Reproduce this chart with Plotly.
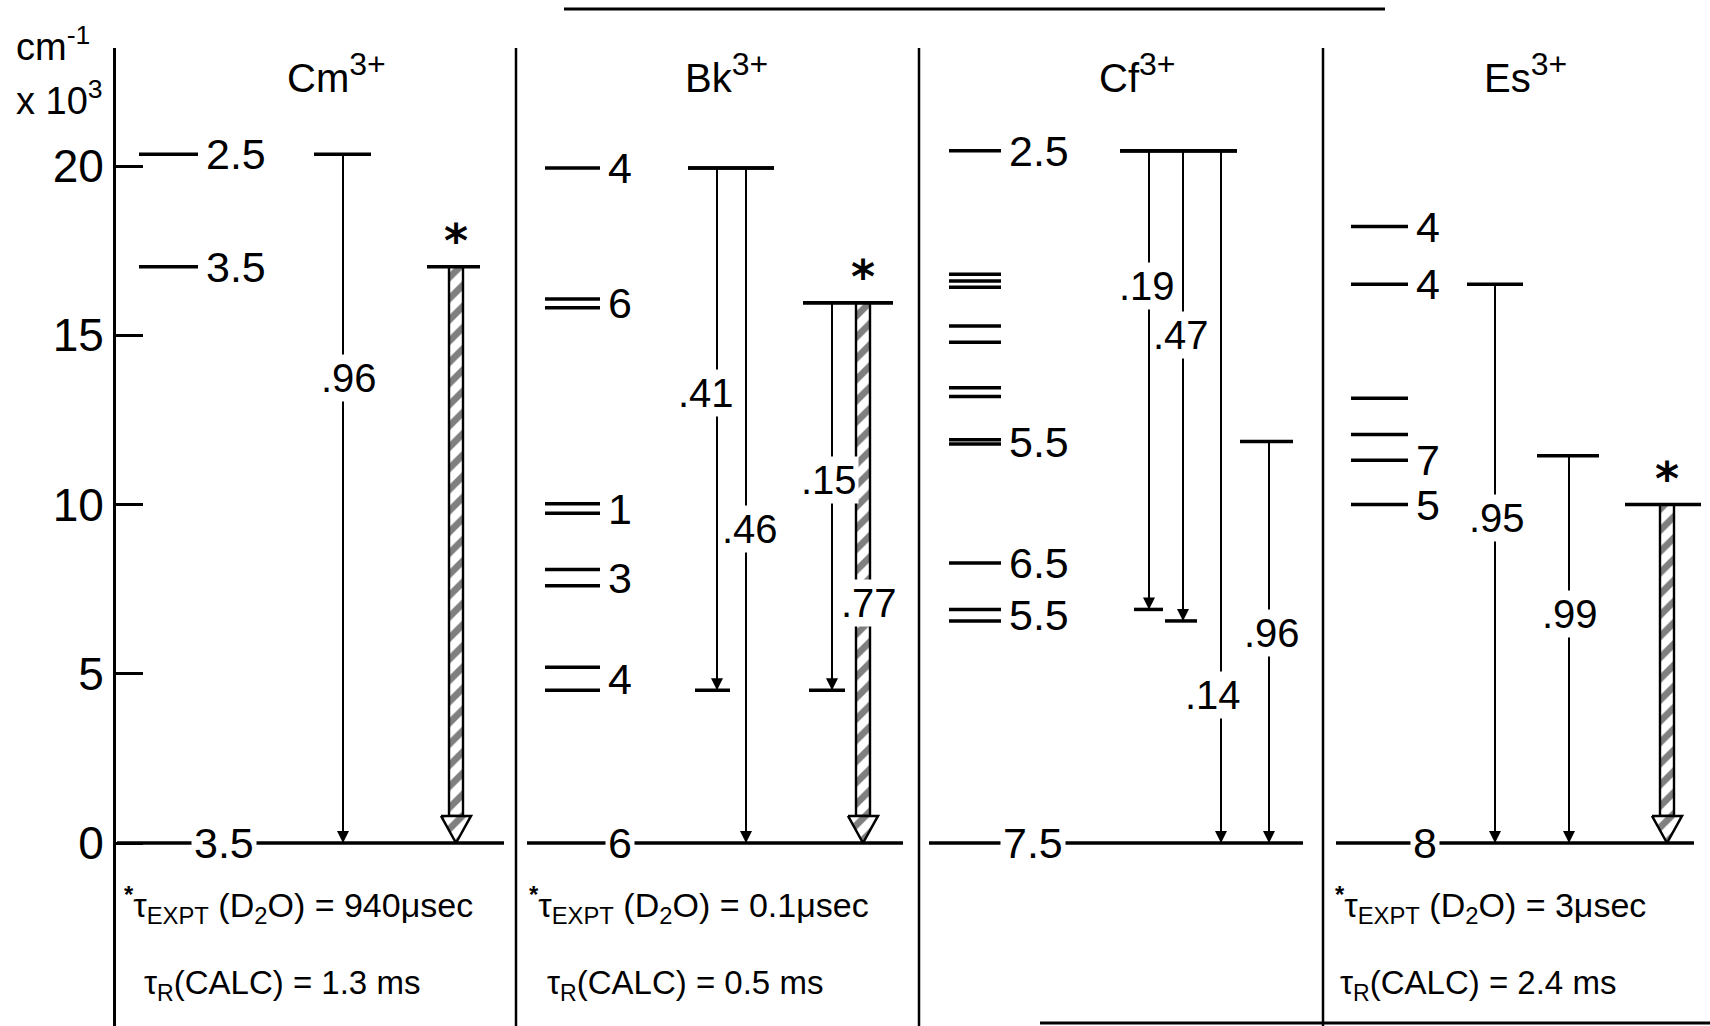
import plotly.graph_objects as go

# ---------------- data: energies in 10^3 cm^-1 ----------------
Y_TICKS = [0, 5, 10, 15, 20]
Y_TICK_TEXT = ["0", "5", "10", "15", "20"]

# Cm3+
CM_LEVELS = [[20.35], [17.02]]
CM_J = ["2.5", "3.5"]
CM_GROUND_J = "3.5"
CM_FROM = [20.35, 17.02]
CM_TO = [0.0, 0.0]
CM_BRANCH = [0.96, None]
CM_EMITTING = [False, True]
CM_TAU_EXPT = "940μsec"
CM_TAU_CALC = "1.3 ms"

# Bk3+
BK_LEVELS = [[19.94], [16.07, 15.81], [10.02, 9.74], [8.08, 7.60], [5.19, 4.51]]
BK_J = ["4", "6", "1", "3", "4"]
BK_GROUND_J = "6"
BK_FROM = [19.94, 19.94, 15.96, 15.96]
BK_TO = [4.51, 0.0, 4.51, 0.0]
BK_BRANCH = [0.41, 0.46, 0.15, 0.77]
BK_EMITTING = [False, False, False, True]
BK_TAU_EXPT = "0.1μsec"
BK_TAU_CALC = "0.5 ms"

# Cf3+
CF_LEVELS = [[20.45], [16.80, 16.60, 16.42], [15.27, 14.79], [13.45, 13.19],
             [11.91, 11.79], [8.27], [6.90, 6.56]]
CF_J = ["2.5", "", "", "", "5.5", "6.5", "5.5"]
CF_GROUND_J = "7.5"
CF_FROM = [20.45, 20.45, 20.45, 11.86]
CF_TO = [6.90, 6.56, 0.0, 0.0]
CF_BRANCH = [0.19, 0.47, 0.14, 0.96]
CF_EMITTING = [False, False, False, False]

# Es3+
ES_LEVELS = [[18.21], [16.51], [13.14], [12.07], [11.31], [10.00]]
ES_J = ["4", "4", "", "", "7", "5"]
ES_GROUND_J = "8"
ES_FROM = [16.51, 11.44, 10.00]
ES_TO = [0.0, 0.0, 0.0]
ES_BRANCH = [0.95, 0.99, None]
ES_EMITTING = [False, False, True]
ES_TAU_EXPT = "3μsec"
ES_TAU_CALC = "2.4 ms"

# ---------------- page geometry ----------------
W, H = 1710, 1026
FONT = "Liberation Sans, Arial, sans-serif"
PX_PER_UNIT = 33.85          # pixels per 10^3 cm^-1
GROUND_PX = 843              # pixel row of the zero level
AXIS_TOP_PX = 48
E_BOT = (GROUND_PX - H) / PX_PER_UNIT
E_TOP = (GROUND_PX - AXIS_TOP_PX) / PX_PER_UNIT
AXIS_X = 114
SEPARATORS = [516, 919, 1323]


def py(p):
    return 1 - p / H


def ratio_text(v):
    return ("%.2f" % v).lstrip("0")


PANELS = [
    dict(title="Cm", title_x=285, levels=CM_LEVELS, j=CM_J, ground_j=CM_GROUND_J,
         e_from=CM_FROM, e_to=CM_TO, branch=CM_BRANCH, emit=CM_EMITTING,
         tau=(CM_TAU_EXPT, CM_TAU_CALC), note_x=(122, 142),
         level_x=(139, 198), ground_x=(117, 504), ground_label_x=224,
         trans_x=[343, 456], top_bar=[(314, 371), (427, 480)],
         bottom_bar=[None, None], label_pos=[(349, 13.74), None]),
    dict(title="Bk", title_x=683, levels=BK_LEVELS, j=BK_J, ground_j=BK_GROUND_J,
         e_from=BK_FROM, e_to=BK_TO, branch=BK_BRANCH, emit=BK_EMITTING,
         tau=(BK_TAU_EXPT, BK_TAU_CALC), note_x=(527, 545),
         level_x=(545, 600), ground_x=(527, 903), ground_label_x=620,
         trans_x=[717, 746, 832, 863],
         top_bar=[(688, 774), (688, 774), (803, 893), (803, 893)],
         bottom_bar=[(695, 730), None, (809, 845), None],
         label_pos=[(706, 13.3), (750, 9.28), (829, 10.72), (869, 7.09)]),
    dict(title="Cf", title_x=1097, levels=CF_LEVELS, j=CF_J, ground_j=CF_GROUND_J,
         e_from=CF_FROM, e_to=CF_TO, branch=CF_BRANCH, emit=CF_EMITTING,
         tau=None, note_x=None,
         level_x=(949, 1001), ground_x=(929, 1303), ground_label_x=1033,
         trans_x=[1149, 1183, 1221, 1269],
         top_bar=[(1120, 1237)] * 3 + [(1240, 1293)],
         bottom_bar=[(1134, 1163), (1165, 1197), None, None],
         label_pos=[(1147, 16.46), (1181, 15.0), (1213, 4.37), (1272, 6.2)]),
    dict(title="Es", title_x=1482, levels=ES_LEVELS, j=ES_J, ground_j=ES_GROUND_J,
         e_from=ES_FROM, e_to=ES_TO, branch=ES_BRANCH, emit=ES_EMITTING,
         tau=(ES_TAU_EXPT, ES_TAU_CALC), note_x=(1333, 1338),
         level_x=(1351, 1408), ground_x=(1336, 1694), ground_label_x=1425,
         trans_x=[1495, 1569, 1667],
         top_bar=[(1467, 1523), (1537, 1599), (1625, 1701)],
         bottom_bar=[None, None, None],
         label_pos=[(1497, 9.6), (1570, 6.76), None]),
]

fig = go.Figure()
annotations = []
shapes = []

thick_x, thick_y = [], []     # energy-level bars
thin_x, thin_y = [], []       # radiative transitions
head_x, head_y = [], []       # filled arrow heads

LEVEL_FONT = dict(family=FONT, size=43, color="black")
HATCH = dict(shape="/", fgcolor="black", bgcolor="white", size=15, solidity=0.45)

for p in PANELS:
    lx0, lx1 = p["level_x"]
    # level ladder on the left of each panel
    for grp, lab in zip(p["levels"], p["j"]):
        for e in grp:
            thick_x += [lx0, lx1, None]
            thick_y += [e, e, None]
        if lab:
            annotations.append(dict(x=lx1 + 6, y=sum(grp) / len(grp), text=lab,
                                    xref="x", yref="y", xanchor="left", yanchor="middle",
                                    showarrow=False, font=LEVEL_FONT))
    # ground level
    gx0, gx1 = p["ground_x"]
    thick_x += [gx0, gx1, None]
    thick_y += [0, 0, None]
    annotations.append(dict(x=p["ground_label_x"], y=0, text=p["ground_j"], xref="x", yref="y",
                            xanchor="center", yanchor="middle", showarrow=False,
                            bgcolor="white", borderpad=2, font=LEVEL_FONT))
    # transitions
    for i, x in enumerate(p["trans_x"]):
        e0, e1 = p["e_from"][i], p["e_to"][i]
        bx0, bx1 = p["top_bar"][i]
        thick_x += [bx0, bx1, None]
        thick_y += [e0, e0, None]
        if p["bottom_bar"][i] is not None:
            cx0, cx1 = p["bottom_bar"][i]
            thick_x += [cx0, cx1, None]
            thick_y += [e1, e1, None]
        if p["emit"][i]:
            head_h = 0.8
            fig.add_trace(go.Bar(
                x=[x], y=[e0 - e1 - head_h], base=[e1 + head_h], width=[14],
                marker=dict(color="white", line=dict(color="black", width=2.4), pattern=HATCH),
                hoverinfo="skip", showlegend=False))
            fig.add_trace(go.Scatter(
                x=[x - 15, x + 15, x, x - 15], y=[e1 + head_h, e1 + head_h, e1, e1 + head_h],
                mode="lines", fill="toself", fillcolor="white", fillpattern=HATCH,
                line=dict(color="black", width=2.5), hoverinfo="skip", showlegend=False))
            annotations.append(dict(x=x, y=e0 + 0.75, text="<b>*</b>", xref="x", yref="y",
                                    xanchor="center", yanchor="middle", showarrow=False,
                                    font=dict(family="DejaVu Sans", size=46, color="black")))
        else:
            thin_x += [x, x, None]
            thin_y += [e0, e1, None]
            head_x.append(x)
            head_y.append(e1)
        if p["branch"][i] is not None and p["label_pos"][i] is not None:
            lxp, lyp = p["label_pos"][i]
            annotations.append(dict(x=lxp, y=lyp, text=ratio_text(p["branch"][i]),
                                    xref="x", yref="y", xanchor="center", yanchor="middle",
                                    showarrow=False, bgcolor="white", borderpad=1,
                                    font=dict(family=FONT, size=40, color="black")))
    # ion title
    annotations.append(dict(x=p["title_x"] / W, y=py(102),
                            text=p["title"] + "<sup><span style='font-size:32px'>3+</span></sup>",
                            xref="paper", yref="paper", xanchor="left", yanchor="bottom",
                            showarrow=False, font=dict(family=FONT, size=40, color="black")))
    # lifetimes
    if p["tau"] is not None:
        n1, n2 = p["note_x"]
        annotations.append(dict(
            x=n1 / W, y=py(905), xref="paper", yref="paper", xanchor="left", yanchor="middle",
            text="<sup><b>*</b></sup>τ<sub>EXPT</sub> (D<sub>2</sub>O) = " + p["tau"][0],
            showarrow=False, font=dict(family=FONT, size=34, color="black")))
        annotations.append(dict(
            x=n2 / W, y=py(985), xref="paper", yref="paper", xanchor="left", yanchor="middle",
            text="τ<sub>R</sub>(CALC) = " + p["tau"][1],
            showarrow=False, font=dict(family=FONT, size=33, color="black")))

fig.add_trace(go.Scatter(x=thin_x, y=thin_y, mode="lines", line=dict(color="black", width=2),
                         hoverinfo="skip", showlegend=False))
fig.add_trace(go.Scatter(x=head_x, y=head_y, mode="markers",
                         marker=dict(symbol="arrow-down", size=12, color="black"),
                         hoverinfo="skip", showlegend=False))
fig.add_trace(go.Scatter(x=thick_x, y=thick_y, mode="lines", line=dict(color="black", width=3.5),
                         hoverinfo="skip", showlegend=False))

# panel separators
for sx in SEPARATORS:
    shapes.append(dict(type="line", xref="x", yref="paper", x0=sx, x1=sx, y0=0, y1=py(AXIS_TOP_PX),
                       line=dict(color="black", width=2.5)))
# heading rule and bottom rule
shapes.append(dict(type="line", xref="x", yref="paper", x0=564, x1=1385, y0=py(9), y1=py(9),
                   line=dict(color="black", width=3)))
shapes.append(dict(type="line", xref="x", yref="paper", x0=1040, x1=1710, y0=py(1023), y1=py(1023),
                   line=dict(color="black", width=3)))

# axis units
annotations.append(dict(x=14 / W, y=py(70), xref="paper", yref="paper", xanchor="left",
                        yanchor="bottom", text="cm<sup>-1</sup>", showarrow=False,
                        font=dict(family=FONT, size=38, color="black")))
annotations.append(dict(x=14 / W, y=py(124), xref="paper", yref="paper", xanchor="left",
                        yanchor="bottom", text="x 10<sup>3</sup>", showarrow=False,
                        font=dict(family=FONT, size=38, color="black")))

fig.update_layout(
    width=W, height=H, margin=dict(l=0, r=0, t=0, b=0),
    paper_bgcolor="white", plot_bgcolor="white",
    barmode="overlay", showlegend=False,
    xaxis=dict(range=[0, W], domain=[0, 1], visible=False, fixedrange=True),
    yaxis=dict(range=[E_BOT, E_TOP], domain=[0, py(AXIS_TOP_PX)], anchor="free",
               position=AXIS_X / W, showline=True, linecolor="black", linewidth=3,
               ticks="inside", ticklen=27, tickwidth=3, tickcolor="black",
               tickvals=Y_TICKS, ticktext=Y_TICK_TEXT,
               tickfont=dict(family=FONT, size=46, color="black"),
               showgrid=False, zeroline=False, fixedrange=True),
    annotations=annotations, shapes=shapes,
)

fig.write_html("out.html")
